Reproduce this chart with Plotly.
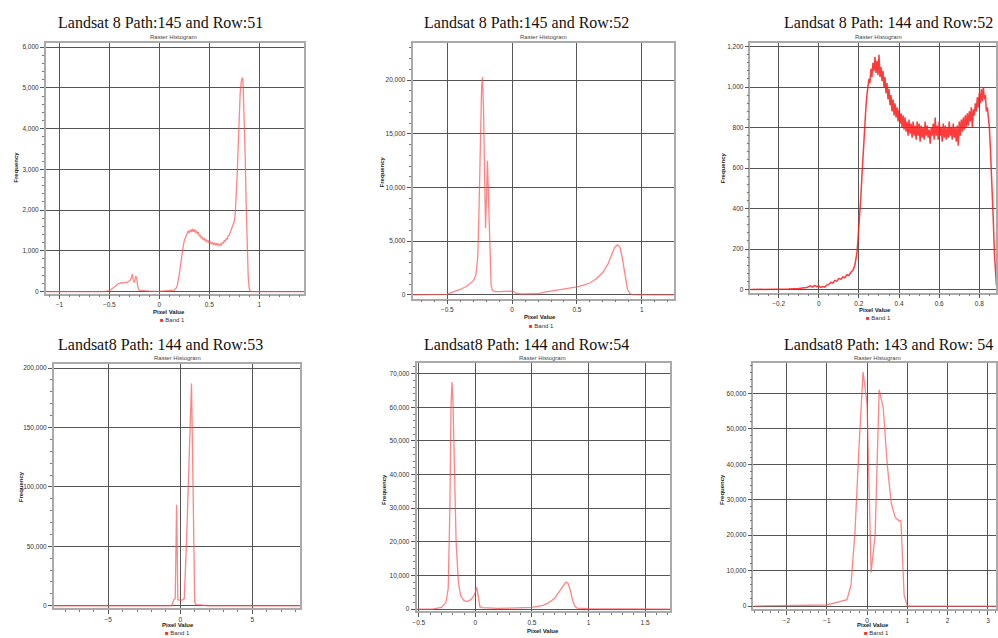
import plotly.graph_objects as go

W, H = 998, 638

titles = ["Landsat 8 Path:145 and Row:51", "Landsat 8 Path:145 and Row:52",
          "Landsat 8 Path: 144 and Row:52", "Landsat8 Path: 144 and Row:53",
          "Landsat8 Path: 144 and Row:54", "Landsat8 Path: 143 and Row: 54"]

# ---- Panel 1: Path 145 / Row 51
x1 = [-1.136, -0.8, -0.55, -0.5, -0.47, -0.44, -0.42, -0.40, -0.38, -0.36, -0.34, -0.32, -0.30, -0.29,
      -0.28, -0.27, -0.26, -0.25, -0.245, -0.235, -0.225, -0.215, -0.2, -0.15, -0.1, 0.0, 0.1, 0.12,
      0.15, 0.16, 0.17, 0.18, 0.19, 0.20, 0.21, 0.22, 0.23, 0.24, 0.25, 0.26, 0.27, 0.28, 0.29, 0.30,
      0.31, 0.32, 0.33, 0.34, 0.35, 0.36, 0.37, 0.38, 0.39, 0.40, 0.41, 0.42, 0.43, 0.44, 0.45, 0.46,
      0.47, 0.48, 0.49, 0.50, 0.51, 0.52, 0.53, 0.54, 0.55, 0.56, 0.57, 0.58, 0.59, 0.60, 0.61, 0.62,
      0.63, 0.64, 0.65, 0.66, 0.67, 0.68, 0.69, 0.70, 0.71, 0.72, 0.73, 0.74, 0.75, 0.76, 0.77, 0.78,
      0.79, 0.80, 0.81, 0.82, 0.83, 0.835, 0.84, 0.85, 0.86, 0.87, 0.88, 0.89, 0.90, 0.91, 0.92, 1.2, 1.45]
y1 = [0, 0, 0, 20, 70, 130, 180, 200, 215, 205, 230, 220, 260, 280,
      330, 430, 280, 220, 250, 380, 320, 120, 30, 15, 10, 5, 15, 25,
      40, 60, 90, 150, 260, 420, 600, 800, 980, 1120, 1250, 1320, 1400, 1430, 1490, 1440,
      1520, 1460, 1540, 1470, 1530, 1450, 1500, 1420, 1460, 1370, 1380, 1310, 1340, 1270, 1300, 1240,
      1280, 1210, 1250, 1190, 1230, 1170, 1210, 1150, 1200, 1140, 1190, 1130, 1180, 1120, 1170, 1140,
      1200, 1190, 1250, 1230, 1300, 1290, 1370, 1380, 1450, 1480, 1560, 1650, 1720, 1900, 2300, 2900,
      3600, 4300, 4900, 5150, 5250, 5230, 5000, 4300, 3300, 2100, 1000, 350, 80, 10, 0, 0, 0]

# ---- Panel 2: Path 145 / Row 52
x2 = [-0.768, -0.6, -0.5, -0.45, -0.4, -0.35, -0.3, -0.28, -0.265, -0.255, -0.245, -0.235, -0.228,
      -0.22, -0.212, -0.205, -0.198, -0.19, -0.182, -0.172, -0.162, -0.152, -0.13, -0.1, -0.05, 0.0,
      0.01, 0.03, 0.06, 0.1, 0.2, 0.25, 0.3, 0.35, 0.4, 0.45, 0.5, 0.55, 0.6, 0.65, 0.7, 0.74, 0.77,
      0.79, 0.81, 0.83, 0.85, 0.87, 0.89, 0.91, 0.93, 1.1, 1.248]
y2 = [0, 0, 50, 300, 500, 800, 1300, 1800, 3500, 8000, 15000, 19500, 20300,
      17000, 11000, 6200, 9000, 12500, 9000, 3500, 900, 400, 300, 300, 300, 300,
      350, 150, 80, 80, 100, 250, 350, 420, 500, 620, 750, 900, 1100, 1500, 2100, 2900, 3800,
      4400, 4650, 4500, 3400, 1800, 500, 100, 20, 0, 0]

# ---- Panel 3: Path 144 / Row 52
x3 = [-0.34, -0.3, -0.2, -0.15, -0.1, -0.08, -0.06, -0.04, -0.03, -0.02, -0.01, 0.0, 0.01, 0.02,
      0.03, 0.04, 0.05, 0.06, 0.07, 0.08, 0.09, 0.10, 0.11, 0.12, 0.13, 0.14, 0.15, 0.16, 0.17, 0.18,
      0.19, 0.195,
      0.200, 0.205, 0.210, 0.215, 0.220, 0.225, 0.230, 0.235, 0.240, 0.245, 0.250, 0.255, 0.260, 0.265,
      0.270, 0.275, 0.280, 0.285, 0.290, 0.295, 0.300, 0.305, 0.310, 0.315, 0.320, 0.325, 0.330, 0.335,
      0.340, 0.345, 0.350, 0.355, 0.360, 0.365, 0.370, 0.375, 0.380, 0.385, 0.390, 0.395, 0.400, 0.405,
      0.410, 0.415, 0.420, 0.425, 0.430, 0.435, 0.440, 0.445, 0.450, 0.455, 0.460, 0.465, 0.470, 0.475,
      0.480, 0.485, 0.490, 0.495, 0.500, 0.505, 0.510, 0.515, 0.520, 0.525, 0.530, 0.535, 0.540, 0.545,
      0.550, 0.555, 0.560, 0.565, 0.570, 0.575, 0.580, 0.585, 0.590, 0.595, 0.600, 0.605, 0.610, 0.615,
      0.620, 0.625, 0.630, 0.635, 0.640, 0.645, 0.650, 0.655, 0.660, 0.665, 0.670, 0.675, 0.680, 0.685,
      0.690, 0.695, 0.700, 0.705, 0.710, 0.715, 0.720, 0.725, 0.730, 0.735, 0.740, 0.745, 0.750, 0.755,
      0.760, 0.765, 0.770, 0.775, 0.780, 0.785, 0.790, 0.795, 0.800, 0.805, 0.810, 0.815, 0.820, 0.825,
      0.830, 0.835, 0.840, 0.845, 0.850, 0.855, 0.860, 0.865, 0.870, 0.875, 0.880, 0.885]
y3 = [0, 0, 0, 2, 5, 8, 10, 18, 12, 20, 14, 18, 10, 15,
      12, 22, 25, 35, 32, 45, 40, 55, 50, 62, 58, 72, 70, 85, 95, 120,
      180, 240,
      300, 380, 460, 560, 650, 760, 850, 900, 960, 1000, 1040, 1020, 1090, 1050,
      1120, 1080, 1150, 1070, 1130, 1060, 1160, 1050, 1100, 1030, 1080, 1000, 1050, 970,
      1020, 940, 990, 910, 960, 880, 940, 860, 920, 850, 900, 830, 890, 820,
      870, 800, 860, 790, 850, 780, 830, 760, 840, 770, 820, 750, 830, 760,
      810, 740, 830, 760, 820, 730, 810, 750, 800, 740, 830, 760, 810, 750,
      790, 720, 800, 760, 820, 740, 850, 760, 810, 740, 830, 760, 800, 730,
      820, 750, 810, 740, 800, 750, 830, 760, 800, 740, 820, 750, 800, 730,
      810, 710, 830, 760, 840, 780, 850, 790, 860, 800, 870, 810, 880, 830,
      900, 800, 890, 860, 920, 880, 950, 900, 970, 920, 990, 930, 1000, 940,
      960, 880, 900, 850, 800, 700, 600, 480, 330, 180, 60, 20]

# ---- Panel 4: Path 144 / Row 53
x4 = [-8.79, -3.0, -0.6, -0.45, -0.35, -0.255, -0.17, -0.1, 0.0, 0.15, 0.28, 0.45, 0.6, 0.78,
      0.9, 1.0, 1.1, 1.4, 1.7, 2.0, 8.33]
y4 = [0, 0, 0, 5000, 6000, 85000, 5000, 5000, 4500, 5000, 6000, 60000, 120000, 187000,
      90000, 3000, 1000, 600, 300, 0, 0]

# ---- Panel 5: Path 144 / Row 54
x5 = [-0.52, -0.38, -0.3, -0.26, -0.24, -0.225, -0.215, -0.207, -0.198, -0.185, -0.17, -0.15,
      -0.13, -0.1, -0.07, -0.04, -0.015, 0.0, 0.011, 0.025, 0.04, 0.06, 0.1, 0.2, 0.3, 0.4, 0.5,
      0.6, 0.65, 0.7, 0.75, 0.78, 0.8, 0.82, 0.84, 0.86, 0.88, 0.9, 0.95, 1.0, 1.72]
y5 = [0, 0, 500, 2000, 6000, 30000, 60000, 67500, 62000, 42000, 20000, 8000,
      4000, 2500, 2200, 2800, 3800, 5000, 6500, 4000, 700, 400, 300, 200, 250, 300, 500,
      1100, 1900, 3200, 5500, 7200, 8000, 7600, 5500, 2500, 800, 300, 200, 100, 0]

# ---- Panel 6: Path 143 / Row 54
x6 = [-2.82, -1.5, -1.0, -0.7, -0.5, -0.4, -0.3, -0.2, -0.1, 0.0, 0.1, 0.2, 0.3, 0.4, 0.5,
      0.6, 0.7, 0.8, 0.84, 0.92, 1.0, 3.2]
y6 = [0, 100, 300, 1200, 1800, 5800, 21000, 45000, 66000, 57000, 9500, 20000, 61000, 56000, 40000,
      29000, 25000, 24000, 24000, 3000, 0, 0]

xs = [x1, x2, x3, x4, x5, x6]
ys = [y1, y2, y3, y4, y5, y6]

# pixel layout of each panel: (left, right, top, bottom)
boxes = [(42, 302, 43, 294), (411, 674, 43, 299), (751, 998, 43, 293),
         (50, 298, 365, 609), (415, 670, 364, 612), (754, 998, 364, 610)]
xranges = [[-1.136, 1.45], [-0.768, 1.248], [-0.34, 0.883],
           [-8.79, 8.33], [-0.52, 1.72], [-2.82, 3.2]]
yranges = [[-49, 6105], [-344, 23470], [-15, 1218],
           [-1930, 203100], [-594, 73060], [-845, 68450]]
xdt = [0.5, 0.5, 0.2, 5, 0.5, 1]
xminor = [0.1, 0.1, 0.05, 1, 0.1, 0.2]
ydt = [1000, 5000, 200, 50000, 10000, 10000]
yminor = [200, 1000, 40, 10000, 2000, 2000]

# annotation positions (px)
title_pos = [(157, 23), (526, 23), (890, 23), (157, 345), (526, 345), (890, 345)]
raster_pos = [(171, 37), (543, 37), (880, 37), (175, 359), (542, 359), (879, 359)]
freq_pos = [(12, 167), (380, 172), (723, 168), (17, 487), (383, 490), (723, 490)]
pix_pos = [(166, 312), (539, 317), (876, 310), (175, 626), (542, 632), (874, 626)]
leg_pos = [(170, 321), (541, 327), (880, 318), (175, 634), None, (878, 634)]

fig = go.Figure()
colors = ["rgba(255,80,80,0.7)", "rgba(255,80,80,0.7)", "rgba(255,25,25,0.85)",
          "rgba(255,80,80,0.7)", "rgba(255,80,80,0.7)", "rgba(255,80,80,0.7)"]
widths = [1.3, 1.3, 1.5, 1.3, 1.3, 1.3]
tickfont = dict(family="Liberation Sans, Arial", size=6.5, color="#333")

layout = dict(width=W, height=H, margin=dict(l=0, r=0, t=0, b=0),
              paper_bgcolor="white", plot_bgcolor="white", showlegend=False)

annotations = []
for i in range(6):
    n = "" if i == 0 else str(i + 1)
    fig.add_trace(go.Scatter(x=xs[i], y=ys[i], mode="lines",
                             line=dict(color=colors[i], width=widths[i]),
                             xaxis="x" + n, yaxis="y" + n, hoverinfo="skip"))
    l, r, t, b = boxes[i]
    layout["xaxis" + n] = dict(
        domain=[l / W, r / W], range=xranges[i], anchor="y" + n,
        dtick=xdt[i], tick0=0, showgrid=True, gridcolor="#555", gridwidth=1,
        zeroline=False, showline=True, mirror=True, linecolor="#aaa", linewidth=1.5,
        ticks="outside", ticklen=4, tickcolor="#555", tickfont=tickfont,
        minor=dict(dtick=xminor[i], tick0=0, ticks="outside", ticklen=2, tickcolor="#777", showgrid=False),
        fixedrange=True)
    layout["yaxis" + n] = dict(
        domain=[1 - b / H, 1 - t / H], range=yranges[i], anchor="x" + n,
        dtick=ydt[i], tick0=0, tickformat=",d", showgrid=True, gridcolor="#555", gridwidth=1,
        zeroline=False, showline=True, mirror=True, linecolor="#aaa", linewidth=1.5,
        ticks="outside", ticklen=4, tickcolor="#555", tickfont=tickfont,
        minor=dict(dtick=yminor[i], tick0=0, ticks="outside", ticklen=2, tickcolor="#777", showgrid=False),
        fixedrange=True)

    tx, ty = title_pos[i]
    annotations.append(dict(text=titles[i], x=tx / W, y=1 - ty / H, xref="paper", yref="paper",
                            showarrow=False, xanchor="center", yanchor="middle",
                            font=dict(family="Liberation Serif, Times New Roman", size=16, color="#111")))
    rx, ry = raster_pos[i]
    annotations.append(dict(text="Raster Histogram", x=rx / W, y=1 - ry / H, xref="paper", yref="paper",
                            showarrow=False, xanchor="center", yanchor="middle",
                            font=dict(family="Liberation Sans, Arial", size=6, color="#444")))
    fx, fy = freq_pos[i]
    annotations.append(dict(text="<b>Frequency</b>", x=fx / W, y=1 - fy / H, xref="paper", yref="paper",
                            showarrow=False, textangle=-90, xanchor="center", yanchor="middle",
                            font=dict(family="Liberation Sans, Arial", size=6, color="#222")))
    px, py = pix_pos[i]
    annotations.append(dict(text="<b>Pixel Value</b>", x=px / W, y=1 - py / H, xref="paper", yref="paper",
                            showarrow=False, xanchor="center", yanchor="middle",
                            font=dict(family="Liberation Sans, Arial", size=6, color="#222")))
    if leg_pos[i] is not None:
        lx, ly = leg_pos[i]
        annotations.append(dict(text="<span style='color:#ff2a2a'>■</span> Band 1", x=lx / W, y=1 - ly / H,
                                xref="paper", yref="paper", showarrow=False, xanchor="center",
                                yanchor="middle",
                                font=dict(family="Liberation Sans, Arial", size=6, color="#333")))

layout["annotations"] = annotations
fig.update_layout(**layout)
fig.write_html("out.html")
